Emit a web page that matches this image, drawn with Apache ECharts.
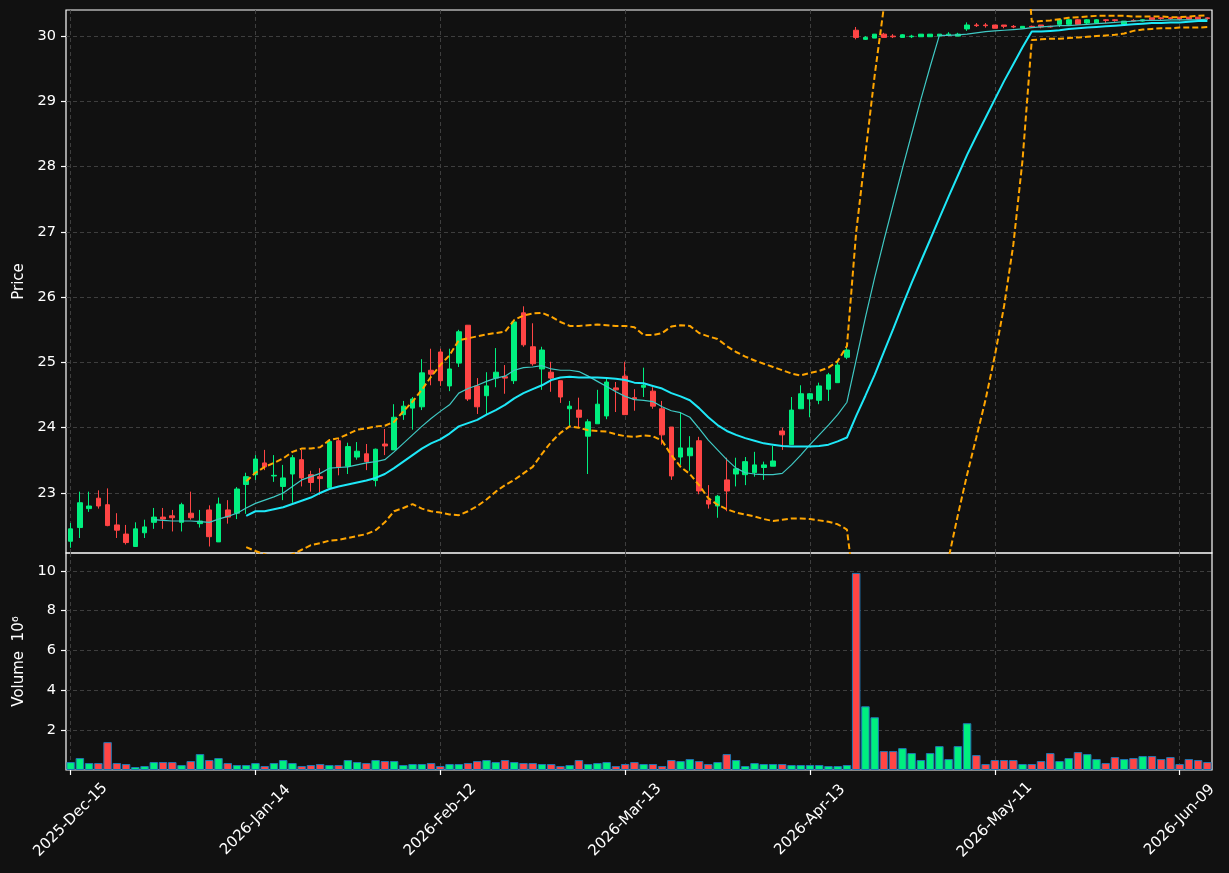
<!DOCTYPE html>
<html><head><meta charset="utf-8">
<script src="https://cdn.jsdelivr.net/npm/echarts@6/dist/echarts.min.js"></script>
<style>html,body{margin:0;padding:0;background:#111111;}#c{width:1229px;height:873px;}</style>
</head><body><div id="c"></div>
<script>
const dates = ["2025-Dec-15","2025-Dec-16","2025-Dec-17","2025-Dec-18","2025-Dec-19","2025-Dec-22","2025-Dec-23","2025-Dec-24","2025-Dec-26","2025-Dec-29","2025-Dec-30","2025-Dec-31",
"2026-Jan-02","2026-Jan-05","2026-Jan-06","2026-Jan-07","2026-Jan-08","2026-Jan-09","2026-Jan-12","2026-Jan-13","2026-Jan-14","2026-Jan-15","2026-Jan-16","2026-Jan-20","2026-Jan-21","2026-Jan-22","2026-Jan-23","2026-Jan-26","2026-Jan-27","2026-Jan-28","2026-Jan-29","2026-Jan-30",
"2026-Feb-02","2026-Feb-03","2026-Feb-04","2026-Feb-05","2026-Feb-06","2026-Feb-09","2026-Feb-10","2026-Feb-11","2026-Feb-12","2026-Feb-13","2026-Feb-17","2026-Feb-18","2026-Feb-19","2026-Feb-20","2026-Feb-23","2026-Feb-24","2026-Feb-25","2026-Feb-26","2026-Feb-27",
"2026-Mar-02","2026-Mar-03","2026-Mar-04","2026-Mar-05","2026-Mar-06","2026-Mar-09","2026-Mar-10","2026-Mar-11","2026-Mar-12","2026-Mar-13","2026-Mar-16","2026-Mar-17","2026-Mar-18","2026-Mar-19","2026-Mar-20","2026-Mar-23","2026-Mar-24","2026-Mar-25","2026-Mar-26","2026-Mar-27","2026-Mar-30","2026-Mar-31",
"2026-Apr-01","2026-Apr-02","2026-Apr-06","2026-Apr-07","2026-Apr-08","2026-Apr-09","2026-Apr-10","2026-Apr-13","2026-Apr-14","2026-Apr-15","2026-Apr-16","2026-Apr-17","2026-Apr-20","2026-Apr-21","2026-Apr-22","2026-Apr-23","2026-Apr-24","2026-Apr-27","2026-Apr-28","2026-Apr-29","2026-Apr-30",
"2026-May-01","2026-May-04","2026-May-05","2026-May-06","2026-May-07","2026-May-08","2026-May-11","2026-May-12","2026-May-13","2026-May-14","2026-May-15","2026-May-18","2026-May-19","2026-May-20","2026-May-21","2026-May-22","2026-May-26","2026-May-27","2026-May-28","2026-May-29",
"2026-Jun-01","2026-Jun-02","2026-Jun-03","2026-Jun-04","2026-Jun-05","2026-Jun-08","2026-Jun-09","2026-Jun-10","2026-Jun-11","2026-Jun-12"];

const open = [22.26,22.47,22.76,22.92,22.82,22.51,22.37,22.18,22.39,22.55,
22.63,22.65,22.55,22.69,22.53,22.74,22.25,22.74,22.69,23.13,
23.28,23.46,23.26,23.10,23.29,23.51,23.28,23.25,23.08,23.80,
23.41,23.55,23.60,23.19,23.75,23.66,24.20,24.30,24.32,24.88,
25.16,24.64,24.99,25.57,24.64,24.49,24.76,24.78,24.72,25.76,
25.24,24.90,24.85,24.72,24.29,24.27,23.87,24.06,24.18,24.61,
24.79,24.46,24.62,24.56,24.29,24.01,23.55,23.57,23.80,22.89,
22.80,23.20,23.29,23.28,23.31,23.39,23.41,23.95,23.74,24.29,
24.44,24.42,24.59,24.69,25.08,30.09,29.95,29.97,30.03,30.00,
29.98,29.99,29.99,29.99,30.00,30.01,30.00,30.11,30.17,30.17,
30.17,30.17,30.15,30.12,30.15,30.17,30.15,30.18,30.18,30.25,
30.20,30.20,30.25,30.25,30.18,30.24,30.23,30.28,30.28,30.28,
30.29,30.29,30.29,30.28];

const high = [22.54,23.02,23.02,23.04,23.07,22.69,22.51,22.55,22.59,22.77,
22.77,22.74,22.85,23.02,22.74,22.81,22.93,22.89,23.09,23.31,
23.58,23.66,23.58,23.43,23.58,23.66,23.34,23.38,23.80,23.84,
23.77,23.78,23.75,23.68,23.98,24.36,24.41,24.47,25.05,25.21,
25.21,25.21,25.50,25.57,24.76,24.85,25.22,24.96,25.65,25.86,
25.60,25.24,25.01,24.72,24.41,24.46,24.13,24.58,24.75,24.70,
25.01,24.59,24.92,24.62,24.41,24.01,24.23,23.87,23.86,23.12,
22.97,23.54,23.54,23.55,23.63,23.48,23.72,24.00,24.47,24.65,
24.53,24.69,24.84,25.04,25.25,30.14,30.00,30.03,30.05,30.03,
30.03,30.02,30.03,30.03,30.03,30.06,30.05,30.21,30.20,30.20,
30.17,30.17,30.17,30.15,30.16,30.17,30.16,30.26,30.26,30.26,
30.26,30.26,30.26,30.26,30.23,30.26,30.26,30.28,30.29,30.29,
30.29,30.29,30.29,30.29];

const low = [22.16,22.31,22.71,22.76,22.49,22.31,22.21,22.18,22.31,22.45,
22.45,22.41,22.41,22.59,22.47,22.18,22.25,22.53,22.60,22.68,
23.20,23.35,23.17,22.89,22.85,23.10,23.02,22.97,23.08,23.27,
23.29,23.51,23.35,23.10,23.58,23.66,24.12,23.97,24.27,24.65,
24.64,24.56,24.93,24.41,24.21,24.21,24.62,24.52,24.67,25.24,
24.95,24.58,24.55,24.38,24.01,24.01,23.29,24.06,24.13,24.24,
24.20,24.26,24.47,24.29,23.74,23.20,23.43,23.34,22.98,22.76,
22.62,22.72,23.10,23.12,23.25,23.20,23.41,23.66,23.74,24.29,
24.16,24.36,24.41,24.69,25.05,29.95,29.94,29.97,29.98,29.97,
29.98,29.97,29.99,29.99,30.00,30.00,30.00,30.08,30.14,30.13,
30.12,30.12,30.12,30.12,30.13,30.12,30.13,30.14,30.17,30.17,
30.18,30.19,30.20,30.22,30.17,30.22,30.22,30.24,30.25,30.25,
30.25,30.25,30.25,30.25];

const close = [22.45,22.85,22.80,22.80,22.50,22.43,22.24,22.45,22.48,22.63,
22.60,22.62,22.82,22.62,22.57,22.33,22.83,22.63,23.06,23.25,
23.52,23.40,23.27,23.23,23.54,23.23,23.16,23.22,23.79,23.39,
23.71,23.64,23.48,23.67,23.72,24.16,24.33,24.44,24.84,24.82,
24.72,24.90,25.47,24.44,24.32,24.64,24.85,24.76,25.62,25.27,
24.98,25.19,24.76,24.47,24.33,24.16,24.09,24.36,24.70,24.58,
24.20,24.44,24.65,24.33,23.89,23.26,23.69,23.69,23.03,22.83,
22.95,23.03,23.37,23.48,23.43,23.43,23.49,23.89,24.27,24.52,
24.52,24.64,24.81,24.96,25.19,29.98,29.98,30.03,29.98,29.99,
30.02,30.00,30.03,30.03,30.03,30.03,30.03,30.17,30.16,30.16,
30.12,30.15,30.14,30.15,30.14,30.14,30.14,30.25,30.25,30.18,
30.25,30.25,30.24,30.24,30.23,30.23,30.25,30.25,30.27,30.27,
30.26,30.26,30.26,30.27];

// volume in millions
const volume = [0.40,0.60,0.35,0.35,1.40,0.35,0.30,0.15,0.20,0.40,
0.40,0.40,0.25,0.45,0.80,0.50,0.60,0.35,0.25,0.25,
0.35,0.20,0.35,0.50,0.35,0.20,0.25,0.30,0.25,0.25,
0.50,0.40,0.35,0.50,0.45,0.45,0.25,0.30,0.30,0.35,
0.20,0.30,0.30,0.35,0.45,0.50,0.40,0.50,0.40,0.35,
0.35,0.30,0.30,0.20,0.25,0.50,0.30,0.35,0.40,0.20,
0.30,0.40,0.30,0.30,0.20,0.50,0.45,0.55,0.45,0.30,
0.40,0.80,0.50,0.20,0.35,0.30,0.30,0.30,0.25,0.25,
0.25,0.25,0.20,0.20,0.25,9.90,3.20,2.65,0.95,0.95,
1.10,0.85,0.50,0.85,1.20,0.55,1.20,2.35,0.75,0.30,
0.50,0.50,0.50,0.30,0.30,0.45,0.85,0.45,0.60,0.90,
0.80,0.55,0.35,0.65,0.55,0.60,0.70,0.70,0.55,0.65,
0.30,0.55,0.50,0.40];

const ma10 = [null,null,null,null,null,null,null,null,null,
22.59,22.58,22.57,22.57,22.57,22.56,22.55,22.60,22.64,22.69,
22.77,22.84,22.89,22.94,23.00,23.10,23.20,23.25,23.30,23.38,
23.39,23.40,23.43,23.46,23.48,23.51,23.63,23.76,23.89,24.02,
24.14,24.25,24.35,24.53,24.60,24.65,24.71,24.76,24.79,24.88,
24.92,24.93,24.95,24.90,24.88,24.88,24.86,24.79,24.71,24.63,
24.55,24.48,24.43,24.42,24.40,24.32,24.26,24.23,24.16,23.99,
23.81,23.66,23.51,23.38,23.31,23.29,23.28,23.28,23.30,23.43,
23.58,23.74,23.89,24.04,24.20,24.39,25.04,25.69,26.30,26.87,
27.42,27.97,28.50,29.03,29.53,30.01,30.01,30.02,30.03,30.05,
30.07,30.08,30.09,30.10,30.11,30.13,30.14,30.15,30.16,30.16,
30.17,30.18,30.19,30.20,30.21,30.22,30.23,30.24,30.24,30.24,
30.25,30.25,30.25,30.25,30.26];

const ma20 = [null,null,null,null,null,null,null,null,null,null,null,null,null,null,null,null,null,null,null,
22.65,22.72,22.72,22.75,22.78,22.83,22.88,22.93,23.00,23.06,
23.10,23.13,23.16,23.19,23.23,23.29,23.38,23.48,23.58,23.68,
23.76,23.82,23.91,24.02,24.07,24.12,24.20,24.27,24.35,24.45,
24.53,24.59,24.65,24.73,24.77,24.78,24.77,24.77,24.77,24.76,
24.75,24.73,24.69,24.68,24.64,24.60,24.53,24.48,24.42,24.30,
24.16,24.04,23.95,23.89,23.84,23.80,23.76,23.74,23.72,23.71,
23.71,23.71,23.72,23.74,23.79,23.85,24.18,24.49,24.81,25.16,
25.51,25.87,26.22,26.55,26.88,27.21,27.54,27.86,28.18,28.47,
28.75,29.03,29.31,29.57,29.83,30.07,30.07,30.08,30.09,30.11,
30.12,30.13,30.14,30.15,30.16,30.17,30.18,30.19,30.20,30.20,
30.21,30.21,30.22,30.23,30.23];

const bbUpper = [null,null,null,null,null,null,null,null,null,null,null,null,null,null,null,null,null,null,null,
23.18,23.31,23.40,23.46,23.53,23.63,23.68,23.68,23.70,23.81,
23.84,23.90,23.97,23.99,24.02,24.03,24.09,24.25,24.40,24.58,
24.78,24.96,25.11,25.34,25.37,25.40,25.43,25.45,25.47,25.65,
25.72,25.75,25.76,25.70,25.62,25.56,25.56,25.57,25.58,25.57,
25.56,25.56,25.54,25.42,25.42,25.45,25.55,25.57,25.56,25.45,
25.40,25.36,25.25,25.16,25.09,25.03,24.98,24.93,24.88,24.83,
24.80,24.84,24.87,24.92,25.02,25.25,27.00,28.20,29.40,30.45,
31.00,31.60,32.10,32.50,32.80,33.00,33.20,33.30,33.30,33.20,
33.00,32.90,32.70,32.50,32.00,30.22,30.23,30.24,30.26,30.28,
30.29,30.30,30.31,30.31,30.31,30.31,30.30,30.30,30.30,30.30,
30.29,30.29,30.30,30.31,30.32];

const bbLower = [null,null,null,null,null,null,null,null,null,null,null,null,null,null,null,null,null,null,null,
22.17,22.11,22.06,22.02,22.02,22.06,22.13,22.20,22.23,22.27,
22.28,22.31,22.34,22.37,22.43,22.55,22.72,22.77,22.83,22.76,
22.72,22.70,22.67,22.66,22.72,22.80,22.90,23.02,23.12,23.20,
23.30,23.40,23.60,23.78,23.92,24.02,24.00,23.96,23.95,23.94,
23.90,23.87,23.86,23.88,23.87,23.80,23.58,23.40,23.29,23.12,
22.92,22.82,22.75,22.70,22.67,22.64,22.60,22.57,22.59,22.61,
22.61,22.60,22.58,22.56,22.52,22.44,21.30,20.90,20.60,20.50,
20.40,20.20,20.20,20.30,20.60,21.00,22.00,22.66,23.28,23.85,
24.43,25.10,25.86,26.80,28.10,29.94,29.95,29.96,29.96,29.97,
29.98,29.99,30.00,30.01,30.02,30.04,30.08,30.10,30.11,30.12,
30.12,30.13,30.13,30.13,30.14];

const priceTicks = [23,24,25,26,27,28,29,30];
const volumeTicks = [2,4,6,8,10];

const UP = '#00ef7f', DOWN = '#ff4545';
const FONT = 'DejaVu Sans';
const gridLine = {show: true, lineStyle: {color: '#444444', type: [4, 3], width: 0.9}};

const candleData = dates.map((d, i) => [open[i], close[i], low[i], high[i]]);
const volData = volume.map((v, i) => ({value: v, itemStyle: {color: close[i] >= open[i] ? UP : DOWN}}));

function isTick(v, list) { return list.some(t => Math.abs(t - v) < 1e-6); }

const chart = echarts.init(document.getElementById('c'), null, {renderer: 'canvas'});
chart.setOption({
  animation: false,
  backgroundColor: '#111111',
  textStyle: {fontFamily: FONT},
  grid: [
    {left: 66, right: 17, top: 10, height: 543, show: true, borderColor: '#ffffff', borderWidth: 1.2, backgroundColor: 'transparent'},
    {left: 66, right: 17, top: 553, height: 217, show: true, borderColor: '#ffffff', borderWidth: 1.2, backgroundColor: 'transparent'}
  ],
  xAxis: [
    {type: 'category', gridIndex: 0, data: dates, boundaryGap: true,
     axisLine: {show: false}, axisTick: {show: false}, axisLabel: {show: false},
     splitLine: Object.assign({interval: 19, alignWithLabel: true}, gridLine)},
    {type: 'category', gridIndex: 1, data: dates, boundaryGap: true,
     axisLine: {show: false},
     axisTick: {show: true, interval: 19, alignWithLabel: true, length: 5, lineStyle: {color: '#ffffff', width: 1.2}},
     axisLabel: {show: true, interval: 19, rotate: 45, align: 'center', verticalAlign: 'middle', margin: 50,
                 color: '#ffffff', fontSize: 15, fontFamily: FONT},
     splitLine: Object.assign({interval: 19, alignWithLabel: true}, gridLine)}
  ],
  yAxis: [
    {type: 'value', gridIndex: 0, min: 22.08, max: 30.40, splitNumber: 8, minInterval: 1, maxInterval: 1,
     axisLine: {show: false},
     axisTick: {show: true, length: 5, customValues: priceTicks, lineStyle: {color: '#ffffff', width: 1.2}},
     axisLabel: {color: '#ffffff', fontSize: 14.5, fontFamily: FONT, margin: 10, customValues: priceTicks,
                 formatter: v => isTick(v, priceTicks) ? String(Math.round(v)) : ''},
     splitLine: gridLine,
     name: 'Price', nameLocation: 'middle', nameGap: 38,
     nameTextStyle: {color: '#ffffff', fontSize: 15, fontFamily: FONT}},
    {type: 'value', gridIndex: 1, min: 0, max: 10.9, interval: 2,
     axisLine: {show: false},
     axisTick: {show: true, length: 5, customValues: volumeTicks, lineStyle: {color: '#ffffff', width: 1.2}},
     axisLabel: {color: '#ffffff', fontSize: 14.5, fontFamily: FONT, margin: 10, customValues: volumeTicks,
                 formatter: v => isTick(v, volumeTicks) ? String(Math.round(v)) : ''},
     splitLine: gridLine,
     name: 'Volume  10\u2076', nameLocation: 'middle', nameGap: 38,
     nameTextStyle: {color: '#ffffff', fontSize: 15, fontFamily: FONT}}
  ],
  series: [
    {type: 'candlestick', xAxisIndex: 0, yAxisIndex: 0, data: candleData, barWidth: '55%',
     itemStyle: {color: UP, color0: DOWN, borderColor: UP, borderColor0: DOWN, borderWidth: 1}, z: 2},
    {type: 'line', xAxisIndex: 0, yAxisIndex: 0, data: ma10, showSymbol: false, symbol: 'none', connectNulls: false,
     lineStyle: {color: '#3fc9c4', width: 1.2}, z: 3},
    {type: 'line', xAxisIndex: 0, yAxisIndex: 0, data: ma20, showSymbol: false, symbol: 'none',
     lineStyle: {color: '#1ee8f8', width: 2}, z: 3},
    {type: 'line', xAxisIndex: 0, yAxisIndex: 0, data: bbUpper, showSymbol: false, symbol: 'none', clip: true,
     lineStyle: {color: '#ffa500', width: 2, type: [6, 3]}, z: 4},
    {type: 'line', xAxisIndex: 0, yAxisIndex: 0, data: bbLower, showSymbol: false, symbol: 'none', clip: true,
     lineStyle: {color: '#ffa500', width: 2, type: [6, 3]}, z: 4},
    {type: 'bar', xAxisIndex: 1, yAxisIndex: 1, data: volData, barWidth: '92%',
     itemStyle: {borderColor: '#1f77b4', borderWidth: 1}}
  ]
});
</script>
</body></html>
